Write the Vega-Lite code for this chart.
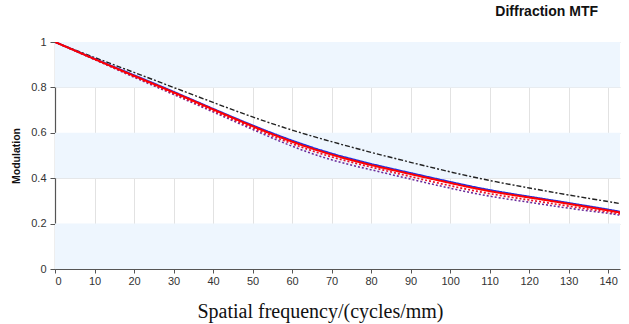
{
  "$schema": "https://vega.github.io/schema/vega-lite/v6.json",
  "width": 565,
  "height": 227,
  "autosize": "none",
  "padding": {"left": 55, "top": 42, "right": 9, "bottom": 55},
  "background": "white",
  "title": {"text": "Diffraction MTF", "anchor": "end", "dx": -22, "offset": 17, "font": "Liberation Sans", "fontSize": 14, "fontWeight": "bold", "color": "#111"},
  "config": {"view": {"stroke": null}},
  "datasets": {
    "bands": [
      {"lo": 0, "hi": 0.2},
      {"lo": 0.4, "hi": 0.6},
      {"lo": 0.8, "hi": 1.0}
    ],
    "mtf": [
      {"series": "Diff. limit", "f": 0, "m": 1.0},
      {"series": "Diff. limit", "f": 10, "m": 0.932},
      {"series": "Diff. limit", "f": 20, "m": 0.866},
      {"series": "Diff. limit", "f": 30, "m": 0.8},
      {"series": "Diff. limit", "f": 40, "m": 0.734},
      {"series": "Diff. limit", "f": 50, "m": 0.67},
      {"series": "Diff. limit", "f": 60, "m": 0.612},
      {"series": "Diff. limit", "f": 70, "m": 0.561},
      {"series": "Diff. limit", "f": 80, "m": 0.514},
      {"series": "Diff. limit", "f": 90, "m": 0.47},
      {"series": "Diff. limit", "f": 100, "m": 0.428},
      {"series": "Diff. limit", "f": 110, "m": 0.39},
      {"series": "Diff. limit", "f": 120, "m": 0.357},
      {"series": "Diff. limit", "f": 130, "m": 0.326},
      {"series": "Diff. limit", "f": 140, "m": 0.297},
      {"series": "Diff. limit", "f": 143, "m": 0.288},
      {"series": "F1 S", "f": 0, "m": 1.0},
      {"series": "F1 S", "f": 10, "m": 0.923},
      {"series": "F1 S", "f": 20, "m": 0.845},
      {"series": "F1 S", "f": 30, "m": 0.769},
      {"series": "F1 S", "f": 40, "m": 0.692},
      {"series": "F1 S", "f": 50, "m": 0.615},
      {"series": "F1 S", "f": 60, "m": 0.541},
      {"series": "F1 S", "f": 70, "m": 0.481},
      {"series": "F1 S", "f": 80, "m": 0.437},
      {"series": "F1 S", "f": 90, "m": 0.396},
      {"series": "F1 S", "f": 100, "m": 0.356},
      {"series": "F1 S", "f": 110, "m": 0.321},
      {"series": "F1 S", "f": 120, "m": 0.294},
      {"series": "F1 S", "f": 130, "m": 0.268},
      {"series": "F1 S", "f": 140, "m": 0.245},
      {"series": "F1 S", "f": 143, "m": 0.237},
      {"series": "F2 S", "f": 0, "m": 1.0},
      {"series": "F2 S", "f": 10, "m": 0.924},
      {"series": "F2 S", "f": 20, "m": 0.848},
      {"series": "F2 S", "f": 30, "m": 0.773},
      {"series": "F2 S", "f": 40, "m": 0.697},
      {"series": "F2 S", "f": 50, "m": 0.622},
      {"series": "F2 S", "f": 60, "m": 0.552},
      {"series": "F2 S", "f": 70, "m": 0.494},
      {"series": "F2 S", "f": 80, "m": 0.449},
      {"series": "F2 S", "f": 90, "m": 0.407},
      {"series": "F2 S", "f": 100, "m": 0.367},
      {"series": "F2 S", "f": 110, "m": 0.332},
      {"series": "F2 S", "f": 120, "m": 0.304},
      {"series": "F2 S", "f": 130, "m": 0.277},
      {"series": "F2 S", "f": 140, "m": 0.251},
      {"series": "F2 S", "f": 143, "m": 0.243},
      {"series": "F1 T", "f": 0, "m": 1.0},
      {"series": "F1 T", "f": 10, "m": 0.926},
      {"series": "F1 T", "f": 20, "m": 0.854},
      {"series": "F1 T", "f": 30, "m": 0.781},
      {"series": "F1 T", "f": 40, "m": 0.706},
      {"series": "F1 T", "f": 50, "m": 0.633},
      {"series": "F1 T", "f": 60, "m": 0.566},
      {"series": "F1 T", "f": 70, "m": 0.509},
      {"series": "F1 T", "f": 80, "m": 0.463},
      {"series": "F1 T", "f": 90, "m": 0.423},
      {"series": "F1 T", "f": 100, "m": 0.384},
      {"series": "F1 T", "f": 110, "m": 0.348},
      {"series": "F1 T", "f": 120, "m": 0.319},
      {"series": "F1 T", "f": 130, "m": 0.291},
      {"series": "F1 T", "f": 140, "m": 0.262},
      {"series": "F1 T", "f": 143, "m": 0.252},
      {"series": "F2 T", "f": 0, "m": 1.0},
      {"series": "F2 T", "f": 10, "m": 0.925},
      {"series": "F2 T", "f": 20, "m": 0.851},
      {"series": "F2 T", "f": 30, "m": 0.778},
      {"series": "F2 T", "f": 40, "m": 0.703},
      {"series": "F2 T", "f": 50, "m": 0.629},
      {"series": "F2 T", "f": 60, "m": 0.561},
      {"series": "F2 T", "f": 70, "m": 0.504},
      {"series": "F2 T", "f": 80, "m": 0.458},
      {"series": "F2 T", "f": 90, "m": 0.418},
      {"series": "F2 T", "f": 100, "m": 0.379},
      {"series": "F2 T", "f": 110, "m": 0.343},
      {"series": "F2 T", "f": 120, "m": 0.315},
      {"series": "F2 T", "f": 130, "m": 0.287},
      {"series": "F2 T", "f": 140, "m": 0.258},
      {"series": "F2 T", "f": 143, "m": 0.249}
    ]
  },
  "layer": [
    {
      "data": {"name": "bands"},
      "mark": {"type": "rect", "color": "#eef6fe"},
      "encoding": {
        "y": {"field": "lo", "type": "quantitative", "scale": {"domain": [0, 1], "nice": false}},
        "y2": {"field": "hi"}
      }
    },
    {
      "data": {"name": "mtf"},
      "mark": {"type": "line", "interpolate": "natural", "clip": true},
      "encoding": {
        "x": {
          "field": "f", "type": "quantitative",
          "scale": {"domain": [0, 143], "nice": false, "zero": true},
          "axis": {
            "values": [0, 10, 20, 30, 40, 50, 60, 70, 80, 90, 100, 110, 120, 130, 140],
            "title": "Spatial frequency/(cycles/mm)",
            "titleFont": "Liberation Serif", "titleFontSize": 20, "titleFontWeight": "normal", "titleColor": "#111",
            "titleAnchor": "start", "titleAlign": "center", "titleX": 265, "titleY": 48, "titleBaseline": "alphabetic",
            "labelFont": "Liberation Sans", "labelFontSize": 11, "labelColor": "#333", "labelPadding": 2,
            "grid": true, "gridColor": "#e2e2e2", "gridWidth": 1,
            "domainColor": "#555", "domainWidth": 1.2, "tickColor": "#555", "tickSize": 4
          }
        },
        "y": {
          "field": "m", "type": "quantitative",
          "scale": {"domain": [0, 1], "nice": false},
          "axis": {
            "values": [0, 0.2, 0.4, 0.6, 0.8, 1],
            "format": ".1~f",
            "title": "Modulation",
            "titleFont": "Liberation Sans", "titleFontSize": 10.5, "titleFontWeight": "bold", "titleColor": "#111", "titlePadding": 9,
            "labelFont": "Liberation Sans", "labelFontSize": 11, "labelColor": "#333", "labelPadding": 4,
            "grid": true, "gridColor": "#e2e2e2", "gridWidth": 1,
            "domainColor": "#555", "domainWidth": 1.2, "tickColor": "#555", "tickSize": 5
          }
        },
        "detail": {"field": "series"},
        "color": {
          "field": "series", "type": "nominal", "legend": null,
          "scale": {"domain": ["Diff. limit", "F1 S", "F2 S", "F1 T", "F2 T"], "range": ["#222222", "#6a2a9a", "#e8102a", "#2030e0", "#ff0000"]}
        },
        "strokeDash": {
          "field": "series", "type": "nominal", "legend": null,
          "scale": {"domain": ["Diff. limit", "F1 S", "F2 S", "F1 T", "F2 T"], "range": [[5, 2, 2, 2], [2, 2], [2, 2], [1, 0], [1, 0]]}
        },
        "strokeWidth": {
          "field": "series", "type": "nominal", "legend": null,
          "scale": {"domain": ["Diff. limit", "F1 S", "F2 S", "F1 T", "F2 T"], "range": [1.4, 2, 2, 2.2, 2.6]}
        },
        "order": {"field": "f", "type": "quantitative"}
      }
    }
  ]
}
